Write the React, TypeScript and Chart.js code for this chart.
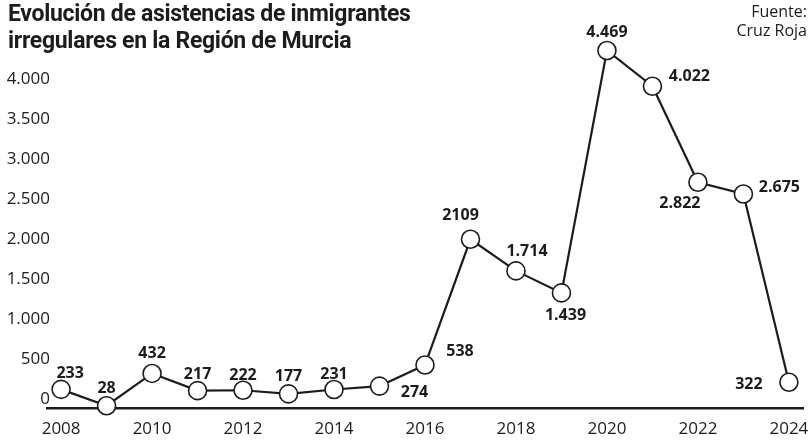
import React, { useEffect, useRef } from 'react';
import { Chart, registerables } from 'chart.js';

Chart.register(...registerables);

const years = [2008, 2009, 2010, 2011, 2012, 2013, 2014, 2015, 2016, 2017, 2018, 2019, 2020, 2021, 2022, 2023, 2024];
const values = [233, 28, 432, 217, 222, 177, 231, 274, 538, 2109, 1714, 1439, 4469, 4022, 2822, 2675, 322];
const valueLabels = ['233', '28', '432', '217', '222', '177', '231', '274', '538', '2109', '1.714', '1.439', '4.469', '4.022', '2.822', '2.675', '322'];
const xTickValues = [2008, 2010, 2012, 2014, 2016, 2018, 2020, 2022, 2024];
const yTickValues = [0, 500, 1000, 1500, 2000, 2500, 3000, 3500, 4000];

const titleLines = ['Evolución de asistencias de inmigrantes', 'irregulares en la Región de Murcia'];
const sourceLines = ['Fuente:', 'Cruz Roja'];

// label placement relative to each point (style only)
const labelOffsets: [number, number][] = [
  [9, -16], [0, -17], [0, -20], [0, -16], [0, -15], [0, -17], [0, -15], [35, 6], [35, -14],
  [-10, -24], [11, -19], [4, 23], [0, -18], [37, -10], [-18, 21], [36, -7], [-40, 2],
];

const INK = '#1c1c1c';
const FONT = '"Open Sans", "Noto Sans", sans-serif';

const fmt = (v: number) => String(v).replace(/\B(?=(\d{3})+(?!\d))/g, '.');

const labelPlugin = {
  id: 'pointLabels',
  afterDatasetsDraw(chart: any) {
    const ctx = chart.ctx;
    const meta = chart.getDatasetMeta(0);
    ctx.save();
    ctx.font = `700 16px ${FONT}`;
    ctx.fillStyle = INK;
    ctx.textAlign = 'center';
    ctx.textBaseline = 'middle';
    meta.data.forEach((pt: any, i: number) => {
      const [dx, dy] = labelOffsets[i];
      ctx.fillText(valueLabels[i], pt.x + dx, pt.y + dy);
    });
    // y-axis tick labels, placed from the library's y scale
    const ys = chart.scales.y;
    ctx.font = `400 17px ${FONT}`;
    ctx.textAlign = 'right';
    ys.ticks.forEach((t: any) => {
      ctx.fillText(fmt(Number(t.value)), ys.right + 3, ys.getPixelForValue(t.value) - 9);
    });
    ctx.restore();
  },
};

export default function App() {
  const ref = useRef<HTMLCanvasElement | null>(null);

  useEffect(() => {
    if (!ref.current) return;
    const chart = new Chart(ref.current, {
      type: 'line',
      data: {
        datasets: [
          {
            data: years.map((y, i) => ({ x: y, y: values[i] })),
            borderColor: INK,
            borderWidth: 2.2,
            pointRadius: 9,
            pointBorderWidth: 1.6,
            pointBackgroundColor: '#ffffff',
            pointBorderColor: INK,
            tension: 0,
            clip: false as any,
          },
        ],
      },
      options: {
        responsive: false,
        animation: false,
        devicePixelRatio: 1,
        layout: { autoPadding: false, padding: { top: 48, right: 7, left: 0, bottom: 0 } },
        plugins: { legend: { display: false }, tooltip: { enabled: false }, title: { display: false } },
        scales: {
          x: {
            type: 'linear',
            min: 2007.69,
            max: 2024.31,
            afterBuildTicks: (s: any) => {
              s.ticks = xTickValues.map((v) => ({ value: v }));
            },
            afterFit: (s: any) => {
              s.height = 33;
              s.paddingLeft = 0;
              s.paddingRight = 0;
            },
            grid: { display: false, drawTicks: false },
            border: { display: true, color: INK, width: 2.5 },
            ticks: {
              padding: 11,
              color: INK,
              font: { family: FONT, size: 17 },
              callback: (v: any) => String(v),
              maxRotation: 0,
              autoSkip: false,
            },
          },
          y: {
            min: 0,
            max: 4500,
            afterBuildTicks: (s: any) => {
              s.ticks = yTickValues.map((v) => ({ value: v }));
            },
            afterFit: (s: any) => {
              s.width = 47;
            },
            grid: { display: false, drawTicks: false },
            border: { display: false },
            ticks: { display: false },
          },
        },
      },
      plugins: [labelPlugin],
    });
    return () => chart.destroy();
  }, []);

  return (
    <div style={{ position: 'absolute', left: 0, top: 0, width: 810, height: 441, background: '#fff', overflow: 'hidden' }}>
      <canvas ref={ref} width={810} height={441} style={{ position: 'absolute', left: 0, top: 0 }} />
      <div
        style={{
          position: 'absolute',
          left: 8,
          top: 0,
          fontFamily: 'Roboto, "Open Sans", sans-serif',
          fontWeight: 700,
          fontSize: 23,
          lineHeight: '27px',
          letterSpacing: '-0.3px',
          color: INK,
          whiteSpace: 'nowrap',
        }}
      >
        {titleLines.map((t) => (
          <div key={t}>{t}</div>
        ))}
      </div>
      <div
        style={{
          position: 'absolute',
          right: 3,
          top: 2,
          textAlign: 'right',
          fontFamily: FONT,
          fontSize: 16,
          lineHeight: '19px',
          color: INK,
        }}
      >
        {sourceLines.map((t) => (
          <div key={t}>{t}</div>
        ))}
      </div>
    </div>
  );
}
